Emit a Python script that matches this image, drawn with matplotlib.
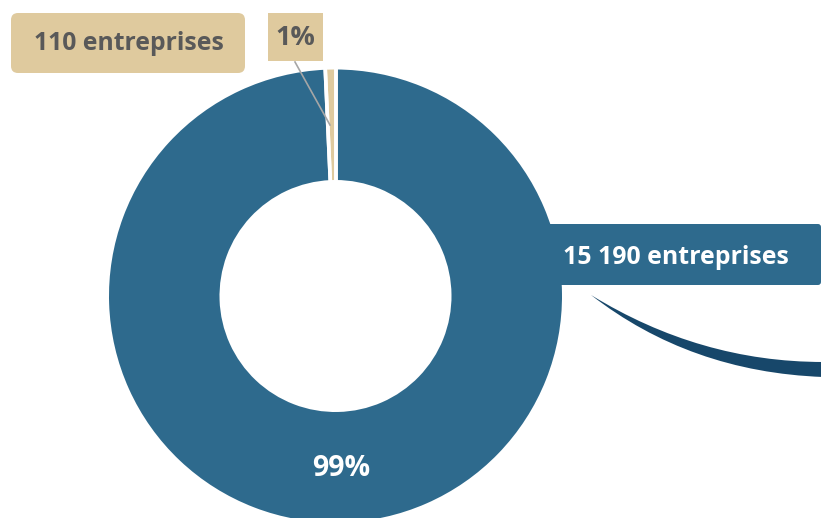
import numpy as np
import matplotlib
matplotlib.use("Agg")
import matplotlib.pyplot as plt
from matplotlib.patches import FancyBboxPatch, PathPatch
from matplotlib.path import Path

# Data
categories = ["15 190 entreprises", "110 entreprises"]
values = [15190, 110]
colors = ["#2E6A8D", "#DFCA9E"]

total = sum(values)
pct_labels = [f"{round(v / total * 100)}%" for v in values]

W, H = 821, 518
fig = plt.figure(figsize=(W / 100, H / 100), dpi=100)
ax = fig.add_axes([0, 0, 1, 1])

FONT = "Open Sans"
cx, cy = 335.5, 518 - 296
R_out = 226.5
ring = 110.5

# blue label box (behind donut)
box_blue = FancyBboxPatch((540, 518 - 285), 281, 61,
                          boxstyle="round,pad=0,rounding_size=3",
                          fc=colors[0], ec="none", zorder=1)
ax.add_patch(box_blue)

wedges, _ = ax.pie(values, colors=colors, startangle=90, counterclock=False,
                   center=(cx, cy), radius=R_out,
                   wedgeprops=dict(width=ring, edgecolor="none", linewidth=0))
for w in wedges:
    w.set_zorder(2)
ax.set_xlim(0, W)
ax.set_ylim(0, H)
ax.set_aspect("equal")
ax.axis("off")

# white separators between slices
for w in wedges:
    for ang in (w.theta1, w.theta2):
        a = np.deg2rad(ang)
        ax.plot([cx + (R_out - ring - 2) * np.cos(a), cx + (R_out + 2) * np.cos(a)],
                [cy + (R_out - ring - 2) * np.sin(a), cy + (R_out + 2) * np.sin(a)],
                color="white", lw=2.6, solid_capstyle="butt", zorder=2.5)

ax.text(676, 518 - 257, categories[0], color="white", fontsize=17.9,
        fontweight="bold", family=FONT, ha="center", va="center", zorder=3)

# 99% label
ax.text(341, 518 - 469, pct_labels[0], color="white", fontsize=20.5,
        fontweight="bold", family=FONT, ha="center", va="center", zorder=3)

# tan boxes
box_tan = FancyBboxPatch((11, 518 - 73), 234, 60,
                         boxstyle="round,pad=0,rounding_size=7",
                         fc=colors[1], ec="none", zorder=3)
ax.add_patch(box_tan)
ax.text(128.5, 518 - 44, categories[1], color="#595959", fontsize=17.8,
        fontweight="bold", family=FONT, ha="center", va="center", zorder=4)

box_pct = FancyBboxPatch((268, 518 - 61), 55, 48,
                         boxstyle="square,pad=0",
                         fc=colors[1], ec="none", zorder=3)
ax.add_patch(box_pct)
ax.text(295.5, 518 - 38, pct_labels[1], color="#595959", fontsize=19.5,
        fontweight="bold", family=FONT, ha="center", va="center", zorder=4)

# leader line
ax.plot([295, 330], [518 - 62, 518 - 125], color="#A6A6A6", lw=1.2, zorder=4)

# swoosh
p0 = (591, 518 - 295)
verts = [p0, (700, 518 - 362), (823, 518 - 362),
         (823, 518 - 377), (690, 518 - 372), p0, p0]
codes = [Path.MOVETO, Path.CURVE3, Path.CURVE3,
         Path.LINETO, Path.CURVE3, Path.CURVE3, Path.CLOSEPOLY]
ax.add_patch(PathPatch(Path(verts, codes), fc="#17476A", ec="none", zorder=2))

fig.savefig("out.png", dpi=100)
